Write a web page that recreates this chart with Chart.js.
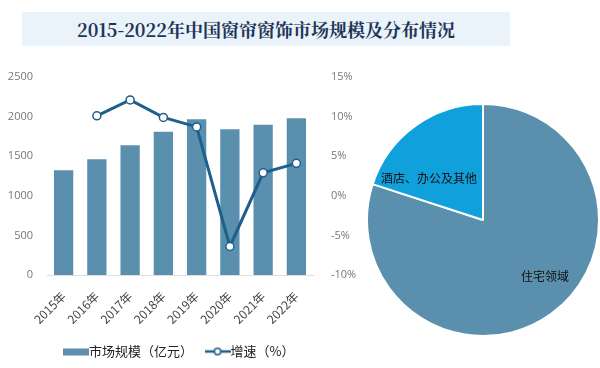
<!DOCTYPE html>
<html>
<head>
<meta charset="utf-8">
<script src="https://cdn.jsdelivr.net/npm/chart.js@4"></script>
<style>
  body { margin: 0; background: #fff; width: 600px; height: 368px; overflow: hidden; position: relative; font-family: "Noto Sans CJK SC", sans-serif; }
  #title { position: absolute; left: 22px; top: 12px; width: 488px; height: 34px; background: #eaf3fa;
           color: #1d3557; font: bold 18px "Noto Serif CJK SC", "Noto Sans CJK SC", serif; text-align: center; line-height: 34px; }
  #barWrap { position: absolute; left: 8px; top: 0; width: 348px; height: 368px; }
  #pieWrap { position: absolute; left: 366px; top: 103px; width: 234px; height: 234px; }
</style>
</head>
<body>
<div id="title">2015-2022年中国窗帘窗饰市场规模及分布情况</div>
<div id="barWrap"><canvas id="barChart"></canvas></div>
<div id="pieWrap"><canvas id="pieChart"></canvas></div>
<script>
// data
const years = ['2015年', '2016年', '2017年', '2018年', '2019年', '2020年', '2021年', '2022年'];
const marketSize = [1323, 1460, 1638, 1808, 1966, 1841, 1897, 1978];   // 亿元
const growth = [null, 10.1, 12.1, 9.9, 8.7, -6.4, 2.9, 4.1];           // %
const pieLabels = ['住宅领域', '酒店、办公及其他'];
const pieShares = [80, 20];

const barColor = '#5b8fae';
const lineColor = '#1f5f8b';
const tickColor = '#777';

// legend markers: a block for bars, a line with a circle for the growth line
function makeMarker(kind) {
    const c = document.createElement('canvas');
    c.width = 26; c.height = 10;
    const g = c.getContext('2d');
    if (kind === 'bar') {
        g.fillStyle = barColor;
        g.fillRect(0, 2, 26, 7);
    } else {
        g.strokeStyle = lineColor;
        g.lineWidth = 2.5;
        g.beginPath(); g.moveTo(0, 5); g.lineTo(26, 5); g.stroke();
        g.fillStyle = '#fff';
        g.lineWidth = 1.5;
        g.beginPath(); g.arc(13, 5, 3.2, 0, Math.PI * 2); g.fill(); g.stroke();
    }
    return c;
}
const legendMarkers = [makeMarker('line'), makeMarker('bar')];

new Chart(document.getElementById('barChart'), {
    type: 'bar',
    data: {
        labels: years,
        datasets: [
            {
                type: 'line',
                label: '增速（%）',
                data: growth,
                yAxisID: 'y1',
                borderColor: lineColor,
                borderWidth: 3,
                pointBackgroundColor: '#fff',
                pointBorderColor: lineColor,
                pointBorderWidth: 1.5,
                pointRadius: 4,
                tension: 0,
                order: 0
            },
            {
                label: '市场规模（亿元）',
                data: marketSize,
                yAxisID: 'y',
                backgroundColor: barColor,
                barPercentage: 0.58,
                categoryPercentage: 1,
                order: 1
            }
        ]
    },
    options: {
        responsive: true,
        maintainAspectRatio: false,
        animation: false,
        layout: { padding: { top: 77, left: 0, right: 0, bottom: 0 } },
        plugins: {
            title: { display: false },
            tooltip: { enabled: false },
            legend: {
                position: 'bottom',
                reverse: true,
                labels: {
                    usePointStyle: true,
                    color: '#222',
                    font: { size: 13, family: '"Noto Sans CJK SC"' },
                    padding: 18,
                    boxWidth: 26,
                    boxHeight: 10,
                    generateLabels(chart) {
                        const items = Chart.defaults.plugins.legend.labels.generateLabels(chart);
                        items.forEach(it => { it.pointStyle = legendMarkers[it.datasetIndex]; });
                        return items;
                    }
                }
            }
        },
        scales: {
            x: {
                grid: { display: false },
                border: { color: '#ddd' },
                ticks: {
                    color: '#444',
                    minRotation: 45,
                    maxRotation: 45,
                    padding: 6,
                    font: { size: 12, family: '"Noto Sans CJK SC"' }
                },
                afterFit: s => { s.height = 52; }
            },
            y: {
                position: 'left',
                min: 0, max: 2500,
                grid: { display: false },
                border: { display: false },
                ticks: { stepSize: 500, color: tickColor, font: { size: 11, family: 'Open Sans' }, padding: 6,
                         callback: v => String(v) },
                afterFit: s => { s.width = 39; }
            },
            y1: {
                position: 'right',
                min: -10, max: 15,
                grid: { display: false },
                border: { display: false },
                ticks: { stepSize: 5, color: tickColor, font: { size: 11, family: 'Open Sans' }, padding: 10,
                         callback: v => v + '%' },
                afterFit: s => { s.width = 43; }
            }
        }
    }
});

// slice labels, drawn at each arc's mid point with small nudges
const pieLabelNudge = [[28, 10], [-20, 5]];
const sliceLabels = {
    id: 'sliceLabels',
    afterDatasetsDraw(chart) {
        const ctx = chart.ctx;
        const meta = chart.getDatasetMeta(0);
        ctx.save();
        ctx.fillStyle = '#111';
        ctx.font = '12px "Noto Sans CJK SC"';
        ctx.textAlign = 'center';
        ctx.textBaseline = 'middle';
        meta.data.forEach((arc, i) => {
            const p = arc.tooltipPosition();
            ctx.fillText(chart.data.labels[i], p.x + pieLabelNudge[i][0], p.y + pieLabelNudge[i][1]);
        });
        ctx.restore();
    }
};

new Chart(document.getElementById('pieChart'), {
    type: 'pie',
    data: {
        labels: pieLabels,
        datasets: [{
            data: pieShares,
            backgroundColor: [barColor, '#10a0dc'],
            borderColor: '#fff',
            borderWidth: 2
        }]
    },
    options: {
        responsive: true,
        maintainAspectRatio: false,
        animation: false,
        layout: { padding: 0 },
        plugins: { legend: { display: false }, tooltip: { enabled: false } }
    },
    plugins: [sliceLabels]
});
</script>
</body>
</html>
